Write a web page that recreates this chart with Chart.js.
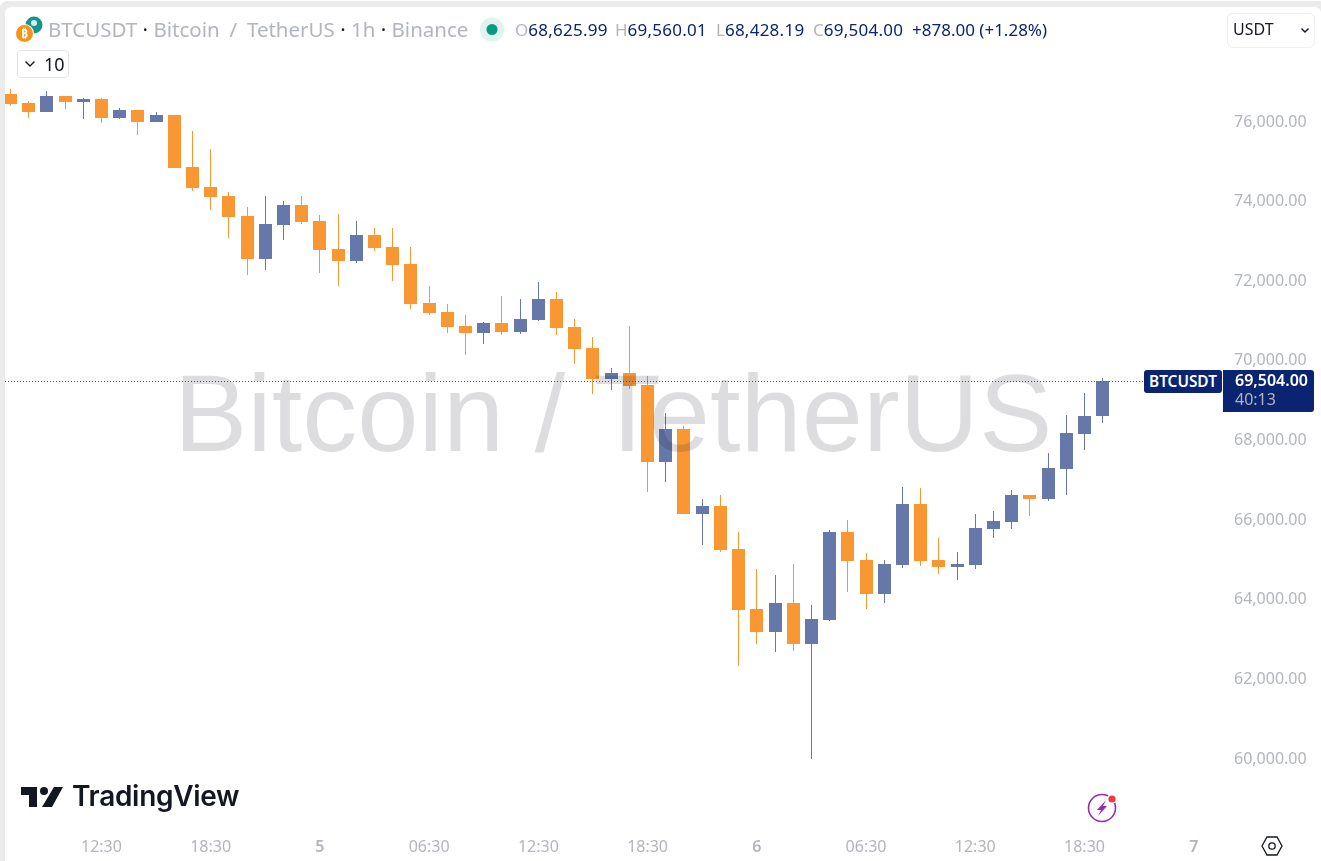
<!DOCTYPE html>
<html>
<head>
<meta charset="utf-8">
<title>BTCUSDT</title>
<script src="https://cdn.jsdelivr.net/npm/chart.js@4"></script>
<style>
    html, body { margin: 0; padding: 0; background: #fff; width: 1321px; height: 861px; overflow: hidden; }
    body { position: relative; font-family: "Noto Sans", sans-serif; }
    canvas { position: absolute; left: 0; top: 0; }
    .abs { position: absolute; white-space: pre; line-height: 1; }
    .frame { left: 5px; top: 7px; width: 1316px; height: 854px; border-radius: 6px 6px 0 0; box-shadow: 0 0 0 7px #ebebeb; pointer-events: none; }
    .topRow { left: 0; top: 0; width: 1321px; height: 1px; background: #fff; }
    .title { left: 48px; top: 19px; font-size: 20.5px; color: #b2b5be; }
    .title b { font-weight: 400; color: #131722; }
    .title span { word-spacing: 4.5px; }
    .ohlc { top: 21px; font-size: 17px; color: #0a2472; }
    .ohlc i { font-style: normal; color: #b2b5be; }
    .ohlc u { text-decoration: none; letter-spacing: 0.25px; }
    .box { border: 1px solid #e0e3eb; border-radius: 4px; background: #fff; box-sizing: border-box; }
    .watermark { left: 174px; top: 358px; font-family: "Liberation Sans", sans-serif; font-size: 110px; color: rgba(19, 23, 34, 0.145); pointer-events: none; }
    .priceTag { background: #0a2472; color: #fff; box-sizing: border-box; }
</style>
</head>
<body>
<canvas id="chart" width="1321" height="861"></canvas>

<div class="abs watermark">Bitcoin / TetherUS</div>
<div class="abs frame"></div>
<div class="abs topRow"></div>

<!-- symbol header -->
<svg class="abs" style="left:14px;top:14px" width="34" height="32" viewBox="0 0 34 32">
    <circle cx="20" cy="11" r="8.5" fill="#14968c"/>
    <circle cx="20" cy="9" r="3" fill="#d5f0ea"/>
    <circle cx="10.5" cy="19.5" r="9.5" fill="#fff"/>
    <circle cx="10.5" cy="19.5" r="8.5" fill="#f7931a"/>
    <text x="10.5" y="24" font-size="12" font-weight="700" fill="#fff" text-anchor="middle">₿</text>
</svg>
<div class="abs title">BTCUSDT <b>·</b> <span>Bitcoin / TetherUS</span> <b>·</b> 1h <b>·</b> Binance</div>
<svg class="abs" style="left:480px;top:17px" width="26" height="26">
    <circle cx="12" cy="12.5" r="12" fill="#dff3ef"/>
    <circle cx="12" cy="12.5" r="5.5" fill="#089981"/>
</svg>
<div class="abs ohlc" style="left:515px"><i>O</i><u>68,625.99</u></div>
<div class="abs ohlc" style="left:615px"><i>H</i><u>69,560.01</u></div>
<div class="abs ohlc" style="left:716px"><i>L</i><u>68,428.19</u></div>
<div class="abs ohlc" style="left:813px"><i>C</i><u>69,504.00</u></div>
<div class="abs ohlc" style="left:912px">+878.00 (+1.28%)</div>

<div class="abs box" style="left:17px;top:50px;width:52px;height:28px"></div>
<svg class="abs" style="left:24px;top:59px" width="12" height="10"><path d="M1.5 2.5 L6 7 L10.5 2.5" fill="none" stroke="#131722" stroke-width="1.4"/></svg>
<div class="abs" style="left:44px;top:55px;font-size:18px;color:#131722">10</div>

<div class="abs box" style="left:1227px;top:13px;width:88px;height:35px;border-color:#eceef2;border-radius:6px"></div>
<div class="abs" style="left:1233px;top:21px;font-size:16px;color:#131722">USDT</div>
<svg class="abs" style="left:1300px;top:27px" width="10" height="8"><path d="M1.5 1.5 L5 5 L8.5 1.5" fill="none" stroke="#131722" stroke-width="1.4"/></svg>

<!-- last price tags -->
<div class="abs priceTag" style="left:1144px;top:370px;width:78px;height:23px;border-radius:3px;padding:4px 0 0 5px;font-size:15.4px;font-weight:600">BTCUSDT</div>
<div class="abs priceTag" style="left:1223px;top:370px;width:91px;height:42px;border-radius:0 3px 3px 0;padding:2px 0 0 12px;font-size:16px;font-weight:600">69,504.00</div>
<div class="abs" style="left:1235px;top:391px;font-size:16px;color:#b2b5be">40:13</div>

<!-- TradingView mark -->
<svg class="abs" style="left:20px;top:785px" width="46" height="24" viewBox="0 0 46 24">
    <path d="M1 2 H17 V22 H9 V10 H1 Z" fill="#131722"/>
    <circle cx="24" cy="6" r="4" fill="#131722"/>
    <path d="M34 2 H43 L32 22 H22 Z" fill="#131722"/>
</svg>
<div class="abs" style="left:72px;top:782px;font-family:Inter,sans-serif;font-size:28px;font-weight:600;color:#131722;letter-spacing:-0.3px">TradingView</div>

<!-- bottom icons -->
<svg class="abs" style="left:1086px;top:792px" width="32" height="32">
    <circle cx="16" cy="16" r="13.5" fill="none" stroke="#9c27b0" stroke-width="1.6"/>
    <path d="M20 8 L11 18 H15 L12 24 L21 14 H17 Z" fill="#9c27b0"/>
    <circle cx="26" cy="7" r="5" fill="#fff"/>
    <circle cx="26" cy="7" r="3.6" fill="#f23645"/>
</svg>
<svg class="abs" style="left:1261px;top:836px" width="22" height="20" viewBox="0 0 22 20">
    <path d="M6 1 H16 L21 10 L16 19 H6 L1 10 Z" fill="none" stroke="#131722" stroke-width="1.3"/>
    <circle cx="11" cy="10" r="3.2" fill="none" stroke="#131722" stroke-width="1.3"/>
</svg>

<script>
// Hourly slots, only the ones with a printed label are filled in
const categories = [
    '', '', '', '', '', '12:30', '', '', '', '', '', '18:30', '', '', '', '', '', '5',
    '', '', '', '', '', '06:30', '', '', '', '', '', '12:30', '', '', '', '', '', '18:30',
    '', '', '', '', '', '6', '', '', '', '', '', '06:30', '', '', '', '', '', '12:30',
    '', '', '', '', '', '18:30', '', '', '', '', '', '7', ''
];
const dayLabels = ['5', '6', '7'];

// Values
const opens = [
    76703, 76477, 76251, 76653, 76502, 76578, 76100, 76301, 76000, 76176,
    74870, 74367, 74141, 73639, 72559, 73413, 73915, 73513, 72810, 72509,
    73162, 72860, 72433, 71454, 71228, 70876, 70700, 70951, 70725, 71027,
    71554, 70851, 70323, 69545, 69695, 69394, 67460, 68289, 66154, 66355,
    65275, 63768, 63190, 63918, 62889, 63491, 65702, 64998, 64144, 64873,
    66405, 64998, 64823, 64873, 65777, 65953, 66631, 66531, 67284, 68163,
    68625.99
];
const closes = [
    76452, 76251, 76653, 76502, 76578, 76100, 76301, 76000, 76176, 74845,
    74342, 74116, 73614, 72559, 73438, 73915, 73488, 72785, 72509, 73162,
    72835, 72408, 71429, 71203, 70851, 70700, 70951, 70725, 71052, 71554,
    70826, 70298, 69545, 69695, 69369, 67460, 68289, 66154, 66355, 65250,
    63743, 63190, 63918, 62889, 63517, 65702, 64973, 64144, 64898, 66405,
    64973, 64823, 64898, 65802, 65978, 66631, 66531, 67309, 68188, 68615,
    69504
];
const highs = [
    76829, 76527, 76779, 76653, 76603, 76603, 76352, 76301, 76251, 76176,
    75774, 75322, 74242, 73865, 74141, 74016, 74141, 73664, 73689, 73513,
    73337, 73337, 72860, 71881, 71429, 71152, 70976, 71629, 71554, 71981,
    71730, 71052, 70600, 69821, 70876, 69620, 68691, 68364, 66531, 66631,
    65702, 64772, 64622, 64898, 63868, 65752, 66003, 65174, 64998, 66832,
    66807, 65551, 65199, 66154, 66229, 66757, 66631, 67686, 68640, 69193,
    69560.01
];
const lows = [
    76402, 76100, 76251, 76327, 76075, 75975, 76075, 75673, 76000, 74845,
    74267, 73790, 73086, 72157, 72283, 73036, 73438, 72207, 71881, 72458,
    72760, 72006, 71303, 71152, 70700, 70148, 70424, 70650, 70675, 71002,
    70650, 69922, 69168, 69268, 69294, 66707, 66958, 66154, 65375, 65199,
    62336, 62889, 62688, 62713, 60000, 63466, 64195, 63768, 63918, 64798,
    64848, 64647, 64496, 64772, 65551, 65777, 66104, 66480, 66631, 67761,
    68428.19
];
const priceTicks = [60000, 62000, 64000, 66000, 68000, 70000, 72000, 74000, 76000];
const lastPrice = 69504;

const upColor = '#6677aa';
const downColor = '#f99733';
const candleColors = closes.map((c, i) => (c >= opens[i] ? upColor : downColor));

// Snap the candles onto whole pixels so wicks stay one pixel wide
const snapCandles = {
    id: 'snapCandles',
    beforeDatasetsDraw(chart) {
        chart.data.datasets.forEach((ds, index) => {
            chart.getDatasetMeta(index).data.forEach(el => {
                el.x = Math.floor(el.x) + 0.5;
                el.y = Math.round(el.y);
                el.base = Math.round(el.base);
            });
        });
    }
};

// Dotted line at the last price
const priceLine = {
    id: 'priceLine',
    afterDatasetsDraw(chart) {
        const y = Math.round(chart.scales.y.getPixelForValue(lastPrice)) + 0.5;
        const ctx = chart.ctx;
        ctx.save();
        ctx.strokeStyle = '#4a5b96';
        ctx.lineWidth = 1;
        ctx.setLineDash([1, 2]);
        ctx.beginPath();
        ctx.moveTo(5, y);
        ctx.lineTo(1144, y);
        ctx.stroke();
        ctx.restore();
    }
};

const ctx = document.getElementById('chart').getContext('2d');
const candleChart = new Chart(ctx, {
    type: 'bar',
    data: {
        labels: categories,
        datasets: [
            {
                label: 'Wick',
                data: lows.map((l, i) => [l, highs[i]]),
                backgroundColor: candleColors,
                barThickness: 1,
                grouped: false,
                inflateAmount: 0,
                order: 2
            },
            {
                label: 'Body',
                data: opens.map((o, i) => [o, closes[i]]),
                backgroundColor: candleColors,
                barThickness: 13,
                grouped: false,
                inflateAmount: 0,
                order: 1
            }
        ]
    },
    options: {
        responsive: false,
        animation: false,
        layout: { padding: { left: 1.3, top: 8, right: 0, bottom: 0 } },
        plugins: {
            legend: { display: false },
            tooltip: { enabled: false }
        },
        scales: {
            x: {
                grid: { display: false, drawTicks: false },
                border: { display: false },
                afterFit: scale => {
                    scale.height = 33;
                    scale.paddingLeft = 0;
                    scale.paddingRight = 0;
                },
                ticks: {
                    autoSkip: false,
                    maxRotation: 0,
                    minRotation: 0,
                    padding: 10,
                    color: '#b2b5be',
                    font: ctx => ({
                        family: '"Noto Sans"',
                        size: 16,
                        weight: dayLabels.includes(categories[ctx.index]) ? 600 : 400
                    })
                }
            },
            y: {
                position: 'right',
                min: 58267,
                max: 78863,
                grid: { display: false, drawTicks: false },
                border: { display: false },
                afterFit: scale => {
                    scale.width = 99.97;
                    scale.paddingTop = 0;
                    scale.paddingBottom = 0;
                },
                afterBuildTicks: scale => { scale.ticks = priceTicks.map(v => ({ value: v })); },
                ticks: {
                    padding: 13,
                    color: '#b2b5be',
                    font: { family: '"Noto Sans"', size: 16 },
                    callback: v => v.toLocaleString('en-US', { minimumFractionDigits: 2 })
                }
            }
        }
    },
    plugins: [snapCandles, priceLine]
});
</script>
</body>
</html>
